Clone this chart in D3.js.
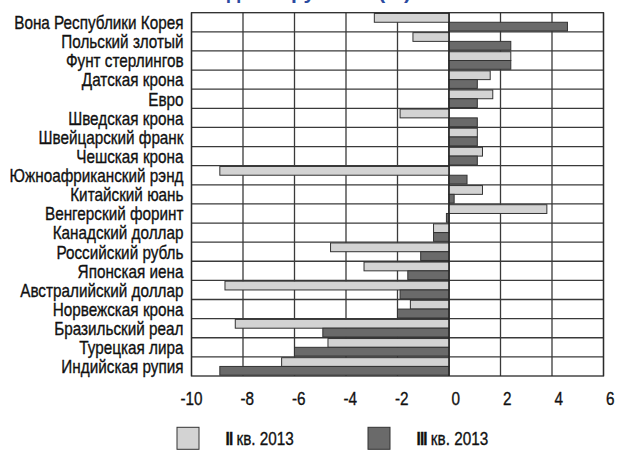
<!DOCTYPE html>
<html>
<head>
<meta charset="utf-8">
<script src="https://cdn.jsdelivr.net/npm/d3@7"></script>
<style>
  html, body { margin: 0; padding: 0; background: #fff; }
  svg { display: block; }
  text { font-family: "Liberation Sans", Arial, "DejaVu Sans", sans-serif; fill: #111; }
  text.lbl { stroke: #111; stroke-width: 0.35px; }
</style>
</head>
<body>
<svg id="chart" width="618" height="450"></svg>
<script>
const categories = [
  "Вона Республики Корея", "Польский злотый", "Фунт стерлингов", "Датская крона", "Евро",
  "Шведская крона", "Швейцарский франк", "Чешская крона", "Южноафриканский рэнд", "Китайский юань",
  "Венгерский форинт", "Канадский доллар", "Российский рубль", "Японская иена", "Австралийский доллар",
  "Норвежская крона", "Бразильский реал", "Турецкая лира", "Индийская рупия"
];
const seriesNames = ["II кв. 2013", "III кв. 2013"];
const q2Values = [-2.9, -1.4, 2.4, 1.6, 1.7, -1.9, 1.1, 1.3, -8.9, 1.3, 3.8, -0.6, -4.6, -3.3, -8.7, -1.5, -8.3, -4.7, -6.5];
const q3Values = [4.6, 2.4, 2.4, 1.1, 1.1, 1.1, 1.1, 1.1, 0.7, 0.2, -0.1, -0.6, -1.1, -1.6, -1.9, -2.0, -4.9, -6.0, -8.9];
const xTicks = [-10, -8, -6, -4, -2, 0, 2, 4, 6];
const titleText = "к доллару США (%)";

const W = 618, H = 450;
const margin = { top: 12.7, right: 14.5, bottom: 74, left: 191.5 };
const FS = 18.6;
const svg = d3.select("#chart");
svg.append("rect").attr("width", W).attr("height", H).attr("fill", "#fff");

const x = d3.scaleLinear().domain([-10, 6]).range([margin.left, W - margin.right]);
const y = d3.scaleBand().domain(categories).range([margin.top, H - margin.bottom]).padding(0);
const ySub = d3.scaleBand().domain(seriesNames).range([0, y.bandwidth()]).paddingOuter(0.09).paddingInner(0);
const colors = d3.scaleOrdinal().domain(seriesNames).range(["#d3d3d3", "#6a6a6a"]);

const data = categories.map((c, i) => ({ c, vals: [q2Values[i], q3Values[i]] }));

// horizontal compression to mimic the condensed typeface
function condense(sel, k) {
  sel.each(function () {
    const t = d3.select(this);
    const tx = +t.attr("x") || 0, ty = +t.attr("y") || 0;
    t.attr("x", 0).attr("y", 0).attr("transform", `translate(${tx},${ty}) scale(${k},1)`);
  });
}

// title (mostly cut off at the top edge, as in the reference)
svg.append("text")
  .attr("x", 411).attr("y", -1.5)
  .attr("text-anchor", "end")
  .style("font-size", "21px").style("font-weight", "bold").style("fill", "#2b4aa0")
  .text(titleText);

// grid
const grid = svg.append("g");
grid.selectAll("line.v").data(xTicks).join("line")
  .attr("x1", d => x(d)).attr("x2", d => x(d))
  .attr("y1", y.range()[0]).attr("y2", y.range()[1])
  .attr("stroke", "#3a3a3a").attr("stroke-width", 1.3);
grid.selectAll("line.h").data(categories.slice(1)).join("line")
  .attr("x1", x.range()[0]).attr("x2", x.range()[1])
  .attr("y1", d => y(d)).attr("y2", d => y(d))
  .attr("stroke", "#3a3a3a").attr("stroke-width", 1.3);
grid.append("rect")
  .attr("x", x.range()[0]).attr("y", y.range()[0])
  .attr("width", x.range()[1] - x.range()[0]).attr("height", y.range()[1] - y.range()[0])
  .attr("fill", "none").attr("stroke", "#2a2a2a").attr("stroke-width", 1.3);

// bars
const rows = svg.append("g").selectAll("g").data(data).join("g")
  .attr("transform", d => `translate(0,${y(d.c)})`);
rows.selectAll("rect").data(d => d.vals.map((v, j) => ({ s: seriesNames[j], v }))).join("rect")
  .attr("x", d => x(Math.min(0, d.v)))
  .attr("width", d => Math.abs(x(d.v) - x(0)))
  .attr("y", d => ySub(d.s))
  .attr("height", ySub.bandwidth())
  .attr("fill", d => colors(d.s))
  .attr("stroke", "#333").attr("stroke-width", 1);

// zero line
svg.append("line")
  .attr("x1", x(0)).attr("x2", x(0)).attr("y1", y.range()[0]).attr("y2", y.range()[1])
  .attr("stroke", "#222").attr("stroke-width", 1.3);

// category labels
const catLabels = svg.append("g").selectAll("text").data(categories).join("text")
  .attr("class", "lbl")
  .attr("x", x.range()[0] - 8)
  .attr("y", d => y(d) + y.bandwidth() / 2 + 6.8)
  .attr("text-anchor", "end")
  .style("font-size", FS + "px")
  .text(d => d);
// fit condensed width to the reference (first label ~169px wide)
const refLen = catLabels.node().getComputedTextLength();
const K = 169.3 / refLen;
condense(catLabels, K);

// x tick labels
const tickLabels = svg.append("g").selectAll("text").data(xTicks).join("text")
  .attr("class", "lbl")
  .attr("x", d => x(d) + 11)
  .attr("y", y.range()[1] + 28.5)
  .attr("text-anchor", "end")
  .style("font-size", FS + "px")
  .text(d => d);
condense(tickLabels, K);

// legend
const legendX = [177, 368];
const legend = svg.append("g").selectAll("g").data(seriesNames).join("g")
  .attr("transform", (d, i) => `translate(${legendX[i]},427.3)`);
legend.append("rect").attr("width", 22).attr("height", 22)
  .attr("fill", d => colors(d)).attr("stroke", "#333").attr("stroke-width", 1);
const lt = legend.append("text").attr("class", "lbl").attr("x", 48.5).attr("y", 18).style("font-size", FS + "px");
lt.append("tspan").style("font-weight", "bold").attr("letter-spacing", "-1").text(d => d.split(" ")[0]);
lt.append("tspan").attr("dx", 5).text(d => d.split(" ").slice(1).join(" "));
condense(lt, K);
</script>
</body>
</html>
